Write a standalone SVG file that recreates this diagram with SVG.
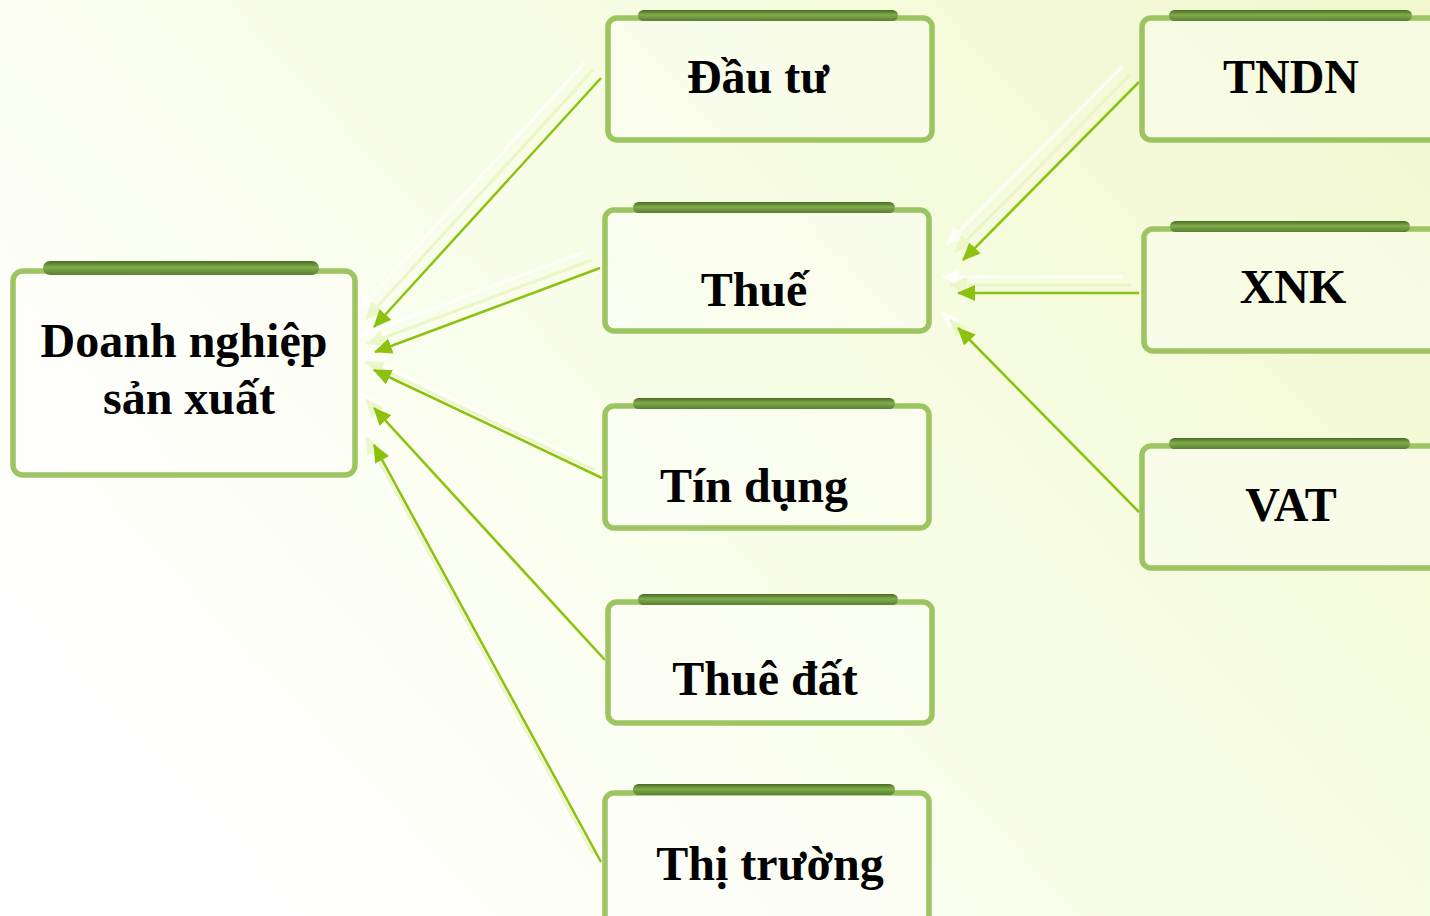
<svg xmlns="http://www.w3.org/2000/svg" width="1430" height="916" viewBox="0 0 1430 916">
<defs>
<linearGradient id="bg" gradientUnits="userSpaceOnUse" x1="1430" y1="0" x2="350" y2="1000">
<stop offset="0" stop-color="#f1f8ce"/>
<stop offset="0.55" stop-color="#f8fde8"/>
<stop offset="1" stop-color="#ffffff"/>
</linearGradient>
<linearGradient id="bar" x1="0" y1="0" x2="0" y2="1">
<stop offset="0" stop-color="#4a6b24"/>
<stop offset="0.45" stop-color="#80ad4c"/>
<stop offset="1" stop-color="#587f30"/>
</linearGradient>
<marker id="ah" viewBox="0 0 18 16" markerWidth="18" markerHeight="16" refX="17" refY="8" orient="auto" markerUnits="userSpaceOnUse">
<path d="M0,0 L18,8 L0,16 z" fill="#8cc10f"/>
</marker>
<marker id="ahw" viewBox="0 0 18 16" markerWidth="18" markerHeight="16" refX="17" refY="8" orient="auto" markerUnits="userSpaceOnUse">
<path d="M0,0 L18,8 L0,16 z" fill="#ffffff"/>
</marker>
<marker id="ahp" viewBox="0 0 18 16" markerWidth="18" markerHeight="16" refX="17" refY="8" orient="auto" markerUnits="userSpaceOnUse">
<path d="M0,0 L18,8 L0,16 z" fill="#eaf5c0"/>
</marker>
<style>
.box{fill:#ffffff;fill-opacity:0.35;stroke:#9cc562;stroke-width:5.5}
.bar{fill:url(#bar)}
.t{font-family:"Liberation Serif","Times New Roman",serif;font-weight:bold;font-size:48px;fill:#000;text-anchor:middle}
.main{stroke:#8cc10f;stroke-width:2.5;fill:none;marker-end:url(#ah)}
.gw{stroke:#ffffff;stroke-width:3;fill:none;opacity:0.75;marker-end:url(#ahw)}
.gp{stroke:#eaf5c0;stroke-width:3;fill:none;opacity:0.8;marker-end:url(#ahp)}
</style>
</defs>
<rect x="0" y="0" width="1430" height="916" fill="url(#bg)"/>

<g id="connectors">
<g id="ghosts-white">
<line class="gw" x1="585" y1="62" x2="358" y2="311"/>
<line class="gw" x1="584" y1="252" x2="359" y2="336"/>
<line class="gw" x1="586" y1="462" x2="358" y2="354"/>
<line class="gw" x1="589" y1="644" x2="358" y2="392"/>
<line class="gw" x1="585" y1="846" x2="358" y2="429"/>
<line class="gw" x1="1123" y1="66" x2="947" y2="244"/>
<line class="gw" x1="1123" y1="277" x2="942" y2="277"/>
<line class="gw" x1="1123" y1="496" x2="942" y2="312"/>
</g>
<g id="ghosts-pale">
<line class="gp" x1="593" y1="70" x2="366" y2="319"/>
<line class="gp" x1="592" y1="260" x2="367" y2="344"/>
<line class="gp" x1="594" y1="470" x2="366" y2="362"/>
<line class="gp" x1="597" y1="652" x2="366" y2="400"/>
<line class="gp" x1="593" y1="854" x2="366" y2="437"/>
<line class="gp" x1="1131" y1="74" x2="955" y2="252"/>
<line class="gp" x1="1131" y1="285" x2="950" y2="285"/>
<line class="gp" x1="1131" y1="504" x2="950" y2="320"/>
</g>
<g id="arrows">
<line class="main" x1="601" y1="78" x2="374" y2="327"/>
<line class="main" x1="600" y1="268" x2="375" y2="352"/>
<line class="main" x1="602" y1="478" x2="374" y2="370"/>
<line class="main" x1="605" y1="660" x2="374" y2="408"/>
<line class="main" x1="601" y1="862" x2="374" y2="445"/>
<line class="main" x1="1139" y1="82" x2="963" y2="260"/>
<line class="main" x1="1139" y1="293" x2="958" y2="293"/>
<line class="main" x1="1139" y1="512" x2="958" y2="328"/>
</g>
</g>

<g id="node-doanh-nghiep">
<rect class="box" x="13" y="271" width="342" height="204" rx="10"/>
<rect class="bar" x="43" y="261" width="276" height="14" rx="7"/>
<text class="t" x="184" y="357">Doanh nghiệp</text>
<text class="t" x="189" y="414">sản xuất</text>
</g>

<g id="node-dau-tu">
<rect class="box" x="608" y="18" width="324" height="122" rx="9"/>
<rect class="bar" x="638" y="10" width="260" height="11" rx="5.5"/>
<text class="t" x="758" y="93">Đầu tư</text>
</g>

<g id="node-thue">
<rect class="box" x="605" y="210" width="324" height="121" rx="9"/>
<rect class="bar" x="633" y="202" width="262" height="11" rx="5.5"/>
<text class="t" x="754" y="306">Thuế</text>
</g>

<g id="node-tin-dung">
<rect class="box" x="605" y="406" width="324" height="122" rx="9"/>
<rect class="bar" x="633" y="398" width="262" height="11" rx="5.5"/>
<text class="t" x="754" y="502">Tín dụng</text>
</g>

<g id="node-thue-dat">
<rect class="box" x="608" y="602" width="324" height="121" rx="9"/>
<rect class="bar" x="638" y="594" width="260" height="11" rx="5.5"/>
<text class="t" x="765" y="695">Thuê đất</text>
</g>

<g id="node-thi-truong">
<rect class="box" x="605" y="793" width="324" height="135" rx="9"/>
<rect class="bar" x="633" y="784" width="262" height="11" rx="5.5"/>
<text class="t" x="770" y="880">Thị trường</text>
</g>

<g id="node-tndn">
<rect class="box" x="1142" y="18" width="324" height="122" rx="9"/>
<rect class="bar" x="1169" y="10" width="243" height="11" rx="5.5"/>
<text class="t" x="1291" y="93">TNDN</text>
</g>

<g id="node-xnk">
<rect class="box" x="1144" y="229" width="324" height="122" rx="9"/>
<rect class="bar" x="1170" y="221" width="240" height="11" rx="5.5"/>
<text class="t" x="1293" y="303">XNK</text>
</g>

<g id="node-vat">
<rect class="box" x="1142" y="446" width="324" height="122" rx="9"/>
<rect class="bar" x="1169" y="438" width="241" height="11" rx="5.5"/>
<text class="t" x="1291" y="521">VAT</text>
</g>
</svg>
